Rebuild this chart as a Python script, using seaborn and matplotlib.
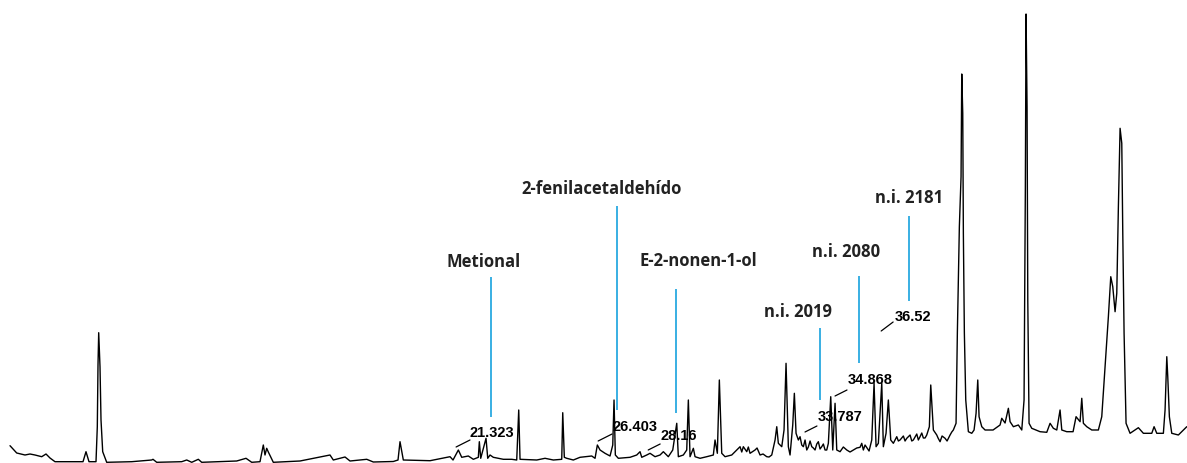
import matplotlib
matplotlib.use("Agg")
import matplotlib.pyplot as plt
import seaborn as sns
import pandas as pd

# ---- chromatogram trace (retention time in min, detector response) ----
rt_min = [
    5.245, 5.486, 5.784, 5.964, 6.144, 6.385, 6.540, 6.683, 6.863, 7.871, 7.978, 8.086,
    8.338, 8.385, 8.410, 8.435, 8.482, 8.518, 8.579, 8.723, 9.622, 10.342, 10.388, 10.522,
    11.421, 11.601, 11.781, 12.018, 12.140, 13.399, 13.734, 13.939, 14.237, 14.356, 14.417,
    14.478, 14.536, 14.716, 15.676, 16.755, 16.874, 17.295, 17.475, 18.076, 18.313, 19.032,
    19.201, 19.273, 19.392, 20.353, 21.072, 21.180, 21.371, 21.493, 21.730, 21.910, 22.090,
    22.126, 22.176, 22.367, 22.428, 22.511, 22.629, 22.989, 23.291, 23.471, 23.543, 23.590,
    24.191, 24.489, 24.788, 25.090, 25.126, 25.183, 25.270, 25.507, 25.748, 26.169, 26.288,
    26.371, 26.468, 26.647, 26.827, 26.925, 26.971, 27.018, 27.126, 27.547, 27.788, 27.906,
    27.968, 28.147, 28.266, 28.446, 28.626, 28.745, 28.924, 29.083, 29.227, 29.284, 29.464,
    29.586, 29.644, 29.705, 29.824, 29.885, 30.065, 30.306, 30.543, 30.604, 30.687, 30.759,
    30.845, 30.964, 31.205, 31.385, 31.622, 31.745, 31.863, 32.043, 32.223, 32.464, 32.644,
    32.763, 32.824, 32.881, 33.004, 33.086, 33.158, 33.241, 33.302, 33.399, 33.457, 33.518,
    33.601, 33.662, 33.781, 33.903, 34.083, 34.201, 34.320, 34.442, 34.561, 34.680, 34.766,
    34.838, 34.921, 34.982, 35.101, 35.342, 35.579, 35.820, 35.881, 35.939, 36.072, 36.241,
    36.324, 36.396, 36.478, 36.601, 36.658, 36.755, 36.838, 36.924, 37.018, 37.140, 37.259,
    37.500, 37.737, 37.978, 38.097, 38.219, 38.313, 38.363, 38.410, 38.457, 38.579, 38.698,
    38.878, 39.058, 39.176, 39.273, 39.320, 39.392, 39.453, 39.478, 39.514, 39.536, 39.572,
    39.622, 39.716, 39.838, 39.921, 39.993, 40.054, 40.101, 40.198, 40.317, 40.604, 40.856,
    40.917, 41.036, 41.155, 41.216, 41.335, 41.514, 41.637, 41.719, 41.766, 41.791, 41.827,
    41.853, 41.899, 41.996, 42.295, 42.536, 42.655, 42.773, 42.896, 43.014, 43.076, 43.255,
    43.482, 43.590, 43.734, 43.795, 43.853, 43.975, 44.155, 44.392, 44.514, 44.633, 44.752,
    44.838, 44.910, 44.993, 45.054, 45.112, 45.173, 45.234, 45.270, 45.317, 45.388, 45.532,
    45.831, 46.011, 46.313, 46.396, 46.493, 46.730, 46.791, 46.853, 46.888, 46.946, 47.032,
    47.270, 47.450, 47.572,
]
response = [
    17.3, 10, 8, 9, 8, 6.3, 9, 5, 1.3, 1.3, 11.3, 1.3,
    1.3, 36.3, 98, 130.3, 96.3, 43, 11.3, 0.7, 1.3, 3, 3.7, 0.7,
    1.3, 3, 0.7, 3.7, 0.7, 2, 4.7, 0.7, 1.3, 18, 8,
    14.7, 11, 0.7, 2, 8, 3, 6, 2, 3.7, 1, 1.5,
    3, 21.3, 3, 2.3, 6.3, 3, 13, 5.7, 7, 3.7, 5.7,
    21.3, 4.7, 24.7, 4.7, 8, 5.7, 3.7, 3.7, 3, 53, 3.7,
    3, 4.7, 3, 3.7, 50.3, 5.7, 4.7, 3, 5.7, 7, 4.7,
    18, 13, 9.7, 7, 18, 63, 8, 4.7, 5.7, 8, 11.3,
    5.7, 8, 9.7, 6.3, 8, 11.3, 6.3, 13, 39.7, 6.3, 8,
    13, 63, 6.3, 14.7, 6.3, 4.7, 6.3, 8, 23, 9.7, 83,
    9.7, 6.3, 8, 13, 16.3, 11.3, 9.7, 13, 8, 6.3, 8,
    23, 36.3, 19.7, 16.3, 33, 99.7, 16.3, 8, 38, 69.7, 29.7,
    23, 26.3, 16.3, 13, 16.3, 13, 21.3, 16.3, 13, 19.7, 66.3,
    13, 59.7, 13, 11.3, 13, 13, 15.7, 19.7, 13, 15, 23,
    79.7, 16.3, 19.7, 79.7, 16.3, 29.7, 63, 23, 19.7, 26.3, 23,
    24.7, 23, 26.3, 25, 28, 36.3, 78, 56.3, 33, 28, 21.3,
    24.7, 28, 33, 39.7, 130, 236.3, 286.3, 389, 349.7, 230, 130,
    63, 31.3, 29.7, 33, 49.7, 83, 46.3, 36.3, 33, 33, 38,
    44.7, 40, 54.7, 41.3, 36.3, 38, 33, 63, 276.3, 449, 356.3,
    163, 39.7, 34.7, 31.3, 30.7, 39.7, 34.7, 33, 53, 33, 31.3,
    31.3, 46.3, 41.3, 64.7, 39.7, 36.3, 33, 33, 46.3, 96.3, 146.3,
    186.3, 176.3, 151.3, 169.7, 256.3, 334.7, 319.7, 229.7, 129.7, 39.7, 29.7,
    35.3, 29.7, 29.7, 36.3, 29.7, 29.7, 53, 106.3, 86.3, 46.3, 29.7,
    28, 33, 36.3,
]

# extra baseline-noise vertices read from the busy 31-39 min stretch
noise_rt = [
    31.504, 31.565, 31.802, 31.935, 32.115, 32.331, 32.547,
    33.723, 33.842, 33.960, 34.022, 34.140, 34.263, 34.381, 34.500, 34.622,
    35.219, 35.460, 35.701, 36.000, 36.144,
    37.198, 37.378, 37.439, 37.619, 37.680, 37.860, 37.917, 38.040, 38.158,
    38.626, 38.770, 38.950, 39.119,
]
noise_resp = [
    16.3, 11, 16, 11, 15, 9, 6,
    18, 23, 16, 22, 15, 19, 14, 19, 13,
    16, 11, 15, 18, 12,
    22, 27, 22, 28, 22, 29, 23, 30, 25,
    25, 27, 22, 31,
]

# ---- identified compounds ----
compound_names = ["Metional", "2-fenilacetaldehído", "E-2-nonen-1-ol",
                  "n.i. 2019", "n.i. 2080", "n.i. 2181"]
compound_rt = [22.53, 27.07, 29.20, 34.38, 35.79, 37.59]

# ---- retention-time labels ----
rt_labels = ["21.323", "26.403", "28.16", "33.787", "34.868", "36.52"]

# ---- layout (label placement in data units) ----
compound_text_pos = [(22.29, 201), (26.54, 274), (29.99, 202), (33.59, 151), (35.32, 211), (37.58, 265)]
compound_line_span = [(186, 46), (257, 53), (174, 50), (135, 63), (187, 100), (247, 162)]
rt_text_pos = [(21.79, 30), (26.90, 36), (28.66, 27), (34.31, 46), (35.39, 83), (37.08, 146)]
rt_leader = [((21.29, 16), (21.79, 23)), ((26.40, 22), (26.90, 29)), ((28.20, 13), (28.63, 19)),
             ((33.84, 31), (34.27, 37)), ((34.92, 67), (35.35, 73)), ((36.58, 132), (37.01, 141))]

df = pd.concat([
    pd.DataFrame({"rt": rt_min, "resp": response}),
    pd.DataFrame({"rt": noise_rt, "resp": noise_resp}),
]).sort_values("rt").reset_index(drop=True)

sns.set_theme(style="white")
fig = plt.figure(figsize=(11.87, 4.63), dpi=100)
ax = fig.add_axes([0, 0, 1, 1])
sns.lineplot(data=df, x="rt", y="resp", sort=False, estimator=None,
             color="black", linewidth=1.0, ax=ax)

blue = "#2AA9E0"
for name, rt, (tx, ty), (y0, y1) in zip(compound_names, compound_rt, compound_text_pos, compound_line_span):
    ax.plot([rt, rt], [y1, y0], color=blue, lw=1.3, solid_capstyle="butt")
    ax.text(tx, ty, name, ha="center", va="center", fontsize=12, fontweight="bold",
            family="Open Sans", color="#222222")

for lab, (tx, ty), (p0, p1) in zip(rt_labels, rt_text_pos, rt_leader):
    ax.plot([p0[0], p1[0]], [p0[1], p1[1]], color="black", lw=0.9)
    ax.text(tx, ty, lab, ha="left", va="center", fontsize=10.5, fontweight="bold",
            family="Liberation Sans", color="black")

ax.set_xlim(4.885, 47.58)
ax.set_ylim(0, 463)
ax.axis("off")
fig.savefig("out.png", dpi=100, facecolor="white")
